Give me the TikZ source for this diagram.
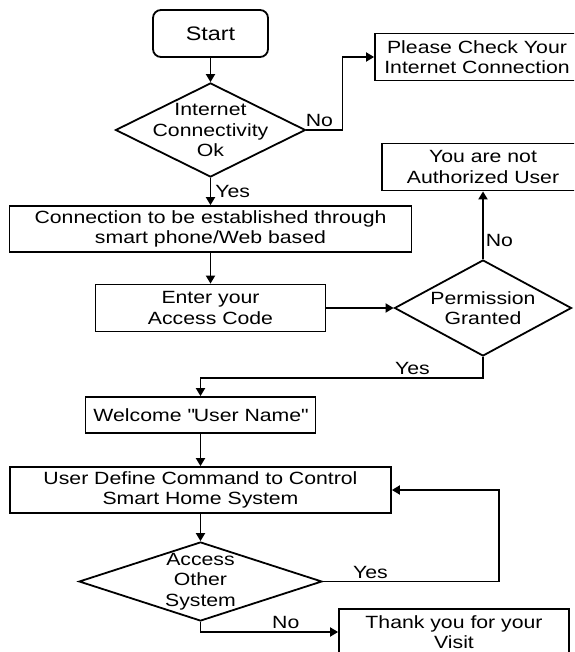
\documentclass[tikz,border=0pt]{standalone}
\usepackage{fontspec}
\setmainfont{Liberation Sans}[FakeStretch=1.2]
\usepackage{tikz}
\usetikzlibrary{shapes,arrows,positioning,calc,arrows.meta}

\begin{document}
\begin{tikzpicture}[x=1pt, y=-1pt, line width=1.8pt, >={Triangle[length=8pt,width=9pt]},
    flow block/.style={draw, rectangle, align=center, minimum height=47pt, inner sep=2pt},
    flow start/.style={flow block, rounded corners=8pt},
    flow decision/.style={draw, diamond, inner sep=0pt},
    flow label/.style={inner sep=2pt},
    font=\fontsize{17.7pt}{20.3pt}\selectfont]
    \useasboundingbox (0,0) rectangle (574,652);
    \clip (0,0) rectangle (574,652);

    \node[flow start, minimum width=115pt, font=\fontsize{19.5pt}{22pt}\selectfont] (start) at (210.5,33.5) {Start};
    \node[flow decision, minimum width=190pt, minimum height=94pt,
        label={[align=center]center:Internet\\Connectivity\\Ok}] (net) at (210.5,130) {};
    \node[flow block, minimum width=204pt] (check) at (477,57) {Please Check Your\\Internet Connection};
    \node[flow block, minimum width=202pt] (auth) at (483,167) {You are not\\Authorized User};
    \node[flow block, minimum width=402pt, minimum height=46pt] (conn) at (210.5,229) {Connection to be established through\\smart phone/Web based};
    \node[flow block, minimum width=230pt] (enter) at (210.5,308) {Enter your\\Access Code};
    \node[flow decision, minimum width=177pt, minimum height=96pt,
        label={[align=center]center:Permission\\Granted}] (perm) at (483,308) {};
    \node[flow block, minimum width=230pt, minimum height=36pt] (welcome) at (200.5,415) {Welcome \textquotedbl User Name\textquotedbl};
    \node[flow block, minimum width=381pt, minimum height=46pt] (user) at (200.5,490) {User Define Command to Control\\Smart Home System};
    \node[flow decision, minimum width=243pt, minimum height=79pt,
        label={[align=center]center:Access\\Other\\System}] (acc) at (200.5,581.5) {};
    \node[flow block, minimum width=230pt, minimum height=46pt] (thank) at (454,632) {Thank you for your\\Visit};

    \draw[->] (start) -- (net);
    \draw[->] (net.east) -- node[above, flow label, xshift=-5pt] {No} ++(36,0) |- (check.west);
    \draw[->] (net) -- node[right, flow label, xshift=2pt] {Yes} (conn);
    \draw[->] (conn) -- (enter);
    \draw[->] (enter) -- (perm);
    \draw[->] (perm) -- node[pos=0.27, right, flow label] {No} (auth);
    \draw[->] (perm.south) -- ++(0,21) -| node[pos=0.125, above, flow label] {Yes} (welcome.north);
    \draw[->] (welcome) -- (user);
    \draw[->] (user) -- (acc);
    \draw[->] (acc.east) -- node[pos=0.27, above, flow label] {Yes} ++(176,0) |- (user.east);
    \draw[->] (acc.south) |- node[pos=0.81, above, flow label] {No} (thank.west);
\end{tikzpicture}
\end{document}
